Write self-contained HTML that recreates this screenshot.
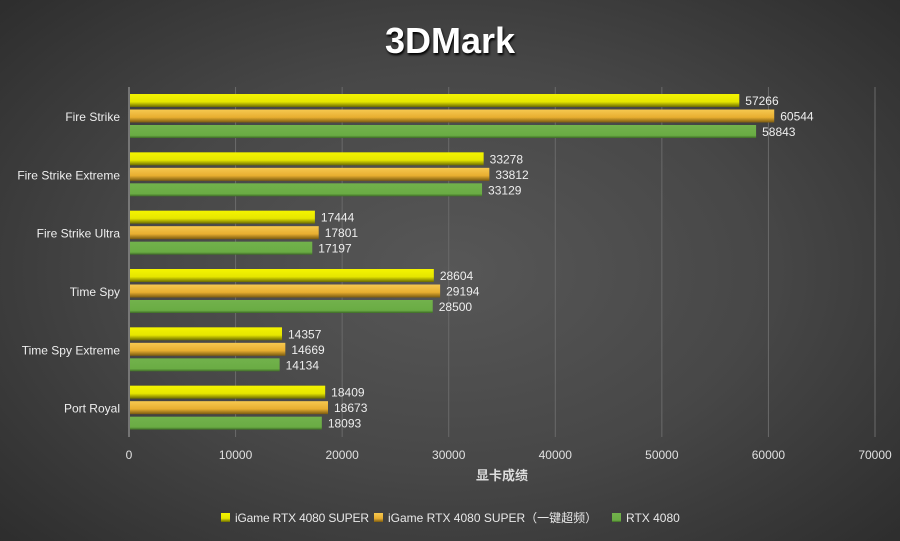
<!DOCTYPE html>
<html><head><meta charset="utf-8">
<style>
html,body{margin:0;padding:0}
body{width:900px;height:541px;overflow:hidden;background:radial-gradient(ellipse 70% 75% at 50% 50%,#575757 0%,#474747 50%,#2c2c2c 100%);font-family:"Liberation Sans","Noto Sans CJK SC",sans-serif}
svg{display:block}
svg text{font-family:"Liberation Sans","Noto Sans CJK SC",sans-serif}
</style></head><body>
<svg id="chart" width="900" height="541" xmlns="http://www.w3.org/2000/svg">
<defs>
<linearGradient id="gy" x1="0" y1="0" x2="0" y2="1"><stop offset="0" stop-color="#f4f400"/><stop offset="0.6" stop-color="#e6e600"/><stop offset="1" stop-color="#6a6a00"/></linearGradient>
<linearGradient id="go" x1="0" y1="0" x2="0" y2="1"><stop offset="0" stop-color="#f6c850"/><stop offset="0.6" stop-color="#e8ae30"/><stop offset="1" stop-color="#7a5a10"/></linearGradient>
<linearGradient id="gg" x1="0" y1="0" x2="0" y2="1"><stop offset="0" stop-color="#72b24c"/><stop offset="0.8" stop-color="#6aac44"/><stop offset="1" stop-color="#3e6a26"/></linearGradient>
</defs>
<text x="450" y="53" text-anchor="middle" font-size="36" font-weight="bold" fill="#fff" style="text-shadow:1px 2px 2px #000">3DMark</text>
<g id="grid"></g><g id="bars"></g><g id="labels"></g>
<text x="502" y="480" text-anchor="middle" font-size="13" font-weight="bold" fill="#ddd">显卡成绩</text>
<g font-size="12" fill="#e8e8e8">
<rect x="221" y="513" width="9" height="9" fill="url(#gy)"/><text x="235" y="522" textLength="134">iGame RTX 4080 SUPER</text>
<rect x="374" y="513" width="9" height="9" fill="url(#go)"/><text x="388" y="522">iGame RTX 4080 SUPER（一键超频）</text>
<rect x="612" y="513" width="9" height="9" fill="url(#gg)"/><text x="626" y="522">RTX 4080</text>
</g>
</svg>
<script>
const categories=["Fire Strike","Fire Strike Extreme","Fire Strike Ultra","Time Spy","Time Spy Extreme","Port Royal"];
const seriesA=[57266,33278,17444,28604,14357,18409];
const seriesB=[60544,33812,17801,29194,14669,18673];
const seriesC=[58843,33129,17197,28500,14134,18093];
const ticks=[0,10000,20000,30000,40000,50000,60000,70000];
const NS="http://www.w3.org/2000/svg";
const plotX0=129,plotX1=875,xMaxVal=70000;
const xs=v=>plotX0+(plotX1-plotX0)*v/xMaxVal;
const plotTop=87,plotBottom=437,pitch=(plotBottom-plotTop)/categories.length;
function mk(t,a,p){const e=document.createElementNS(NS,t);for(const k in a)e.setAttribute(k,a[k]);p.appendChild(e);return e;}
const gridG=document.getElementById('grid'),barsG=document.getElementById('bars'),labelsG=document.getElementById('labels');
ticks.forEach(t=>{
 const l=mk('line',{x1:xs(t),x2:xs(t),y1:plotTop,y2:plotBottom,stroke:t===0?'#aaa':'#6a6a6a','stroke-width':1},gridG);
 
 
 const tx=mk('text',{x:xs(t),y:459,'text-anchor':'middle','font-size':12,fill:'#e0e0e0'},labelsG);
 tx.textContent=t;
 
 
});
const series=[[seriesA,'url(#gy)'],[seriesB,'url(#go)'],[seriesC,'url(#gg)']];
categories.forEach((c,i)=>{
 const gy=plotTop+7+i*pitch;
 const cl=mk('text',{x:120,y:gy+27,'text-anchor':'end','font-size':12,fill:'#eee'},labelsG);
 cl.textContent=c;
 
 
 series.forEach(([arr,fill],j)=>{
  const y=gy+j*15.5;
  const r=mk('rect',{x:plotX0+1,y:y,width:xs(arr[i])-plotX0-1,height:13,fill:fill},barsG);
  
  
  const v=mk('text',{x:xs(arr[i])+6,y:y+11,'font-size':12,fill:'#eee'},labelsG);
  v.textContent=arr[i];
  
  
 });
});
</script>
</body></html>
